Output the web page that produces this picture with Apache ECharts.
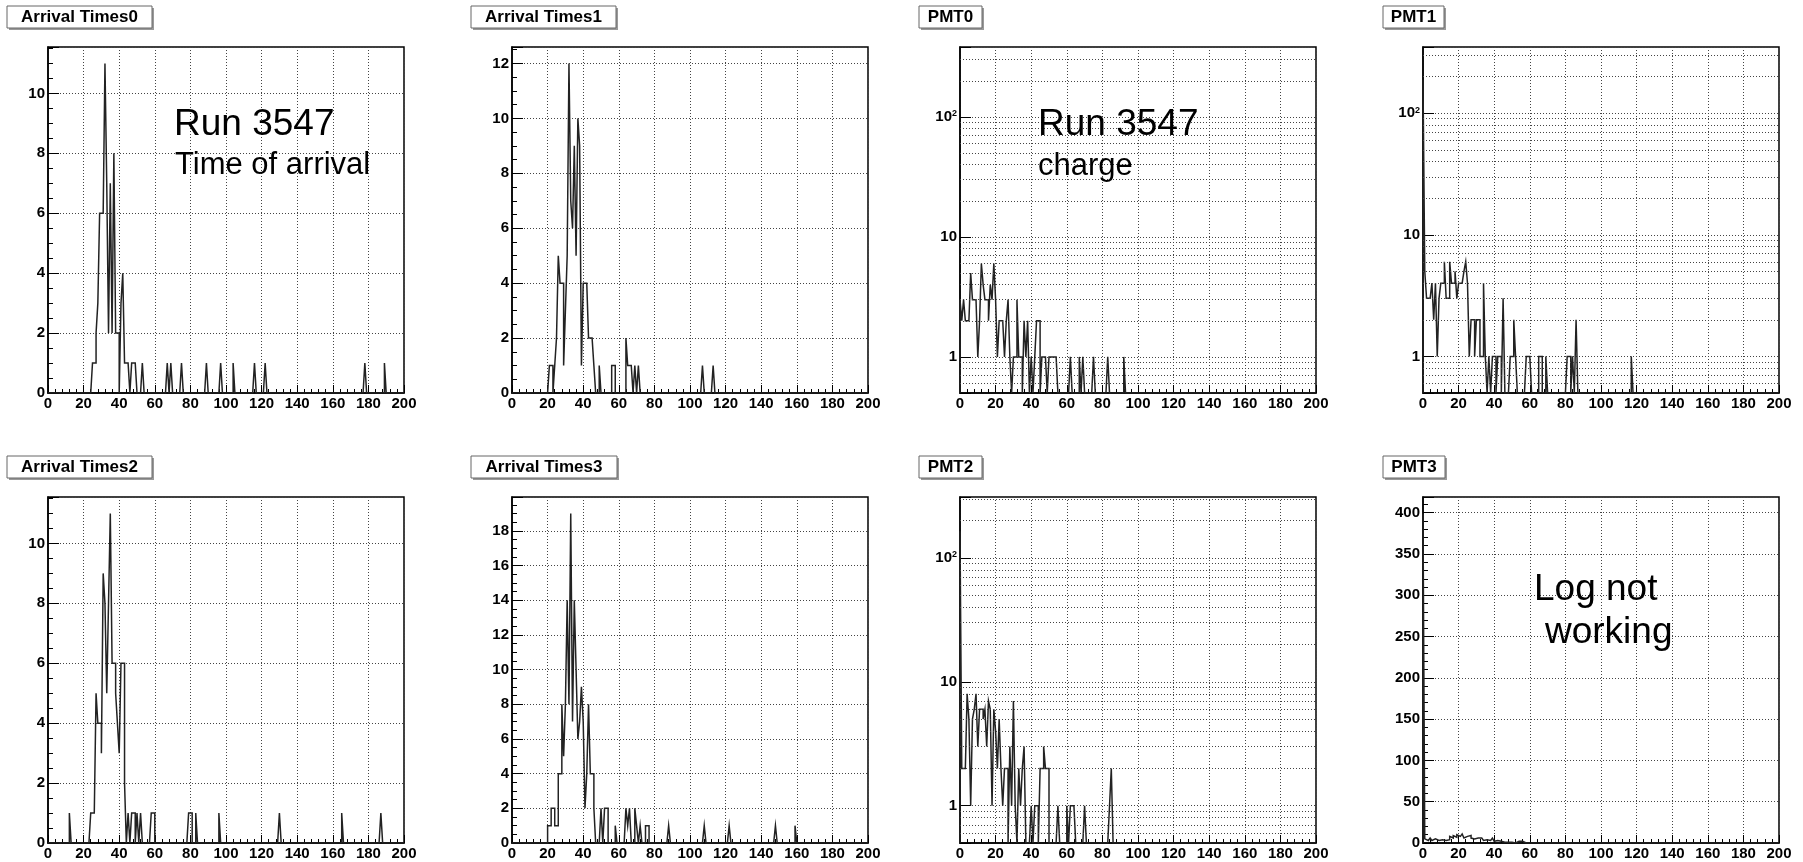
<!DOCTYPE html>
<html>
<head>
<meta charset="utf-8">
<script src="https://cdn.jsdelivr.net/npm/echarts@6/dist/echarts.min.js"></script>
<style>
html,body{margin:0;padding:0;background:#fff;}
#c{width:1803px;height:862px;}
</style>
</head>
<body>
<div id="c"></div>
<script>
// ---------------- data (bin index, count); bins are 1 unit wide on 0..200 ----------------
const panelTitles = ['Arrival Times0', 'Arrival Times1', 'PMT0', 'PMT1',
                     'Arrival Times2', 'Arrival Times3', 'PMT2', 'PMT3'];

const arrivalTimes0 = [[25,1],[26,1],[27,2],[28,3],[29,6],[30,6],[31,6],[32,11],[33,7],[34,2],[35,7],[36,2],
  [37,8],[38,2],[39,2],[41,3],[42,4],[43,1],[44,1],[45,1],[47,1],[48,1],[49,1],[53,1],[67,1],[69,1],[75,1],
  [89,1],[97,1],[104,1],[116,1],[122,1],[178,1],[189,1]];

const arrivalTimes1 = [[21,1],[22,1],[24,1],[25,2],[26,5],[27,4],[28,4],[29,1],[30,3],[31,5],[32,12],[33,7],
  [34,6],[35,9],[36,5],[37,10],[38,9],[39,1],[40,4],[41,4],[42,4],[43,2],[44,2],[45,2],[46,1],[49,1],
  [56,1],[57,1],[64,2],[65,1],[66,1],[67,1],[69,1],[71,1],[107,1],[113,1]];

const pmt0 = [[0,3],[1,2],[2,3],[3,2],[4,2],[5,2],[6,5],[7,3],[8,3],[9,3],[10,1],[11,2],[12,6],[13,4],[14,3],
  [15,3],[16,2],[17,4],[18,3],[19,6],[20,3],[21,1],[22,2],[23,2],[24,2],[25,1],[26,2],[27,3],[28,1],[30,1],
  [31,1],[32,3],[33,1],[34,1],[36,2],[37,1],[38,2],[40,1],[42,1],[43,2],[44,2],[46,1],[47,1],[48,1],[50,1],
  [51,1],[52,1],[53,1],[54,1],[62,1],[67,1],[69,1],[75,1],[83,1],[92,1]];

const pmt1 = [[0,188],[1,5],[2,3],[3,3],[4,3],[5,4],[6,2],[7,4],[8,1],[9,3],[10,4],[11,4],[12,6],[13,3],[14,3],
  [15,6],[16,4],[17,4],[18,5],[19,3],[20,4],[21,4],[22,4],[23,5],[24,6],[25,4],[26,1],[27,2],[28,2],[29,1],
  [30,2],[31,2],[32,1],[33,1],[34,4],[35,1],[37,1],[39,1],[40,1],[42,1],[43,1],[45,3],[49,1],[50,1],[51,2],
  [52,1],[58,1],[59,1],[60,1],[65,1],[66,1],[69,1],[81,1],[82,1],[84,1],[86,2],[117,1]];

const arrivalTimes2 = [[12,1],[24,1],[25,1],[26,1],[27,5],[28,4],[29,4],[30,3],[31,9],[32,8],[33,5],[34,8],
  [35,11],[36,6],[37,6],[38,5],[39,4],[40,3],[41,6],[42,6],[43,2],[45,1],[47,1],[48,1],[50,1],[52,1],
  [58,1],[59,1],[79,1],[80,1],[83,1],[96,1],[130,1],[165,1],[187,1]];

const arrivalTimes3 = [[20,1],[21,1],[22,2],[23,2],[24,1],[25,1],[26,4],[27,4],[28,8],[29,5],[30,8],[31,14],
  [32,8],[33,19],[34,7],[35,14],[36,10],[37,6],[38,7],[39,9],[40,7],[41,2],[42,4],[43,8],[44,4],[45,4],
  [46,2],[50,2],[52,2],[53,2],[58,1],[64,2],[65,1],[66,2],[69,2],[70,1],[72,1],[75,1],[76,1],[88,1],
  [108,1],[122,1],[148,1],[159,1]];

const pmt2 = [[0,164],[1,2],[2,2],[3,2],[4,8],[5,5],[6,1],[7,5],[8,6],[9,8],[10,3],[11,6],[12,6],[13,5],
  [14,6],[15,3],[16,7],[17,6],[18,1],[19,6],[20,4],[21,2],[22,5],[23,2],[24,1],[25,2],[26,2],[28,3],[29,1],
  [30,7],[31,1],[33,2],[34,1],[35,2],[36,3],[40,1],[42,1],[43,1],[45,2],[46,2],[47,3],[48,2],[49,2],
  [55,1],[60,1],[62,1],[63,1],[64,1],[70,1],[84,1],[85,2]];

const pmt3 = [[0,399],[1,5],[2,3],[3,4],[4,6],[5,3],[6,5],[7,4],[8,3],[9,5],[10,4],[11,6],[12,3],[13,5],
  [14,4],[15,8],[16,6],[17,9],[18,7],[19,10],[20,8],[21,7],[22,11],[23,6],[24,8],[25,7],[26,9],[27,6],
  [28,5],[29,7],[30,6],[31,4],[32,6],[33,5],[34,3],[35,4],[36,5],[37,3],[38,4],[39,6],[40,2],[41,3],
  [42,1],[43,2],[44,3],[45,1],[46,2],[47,1],[48,2],[49,1],[50,1],[52,1],[53,2],[54,4],[55,2],[56,1],
  [58,1],[60,1]];

const panelData = [arrivalTimes0, arrivalTimes1, pmt0, pmt1, arrivalTimes2, arrivalTimes3, pmt2, pmt3];

// axis ranges
const xRange = [0, 200];
const xStep = 20;
const yIsLog = [false, false, true, true, false, false, true, false];
const yMin   = [0, 0, 0.5, 0.5, 0, 0, 0.5, 0];
const yMax   = [11.55, 12.6, 383, 350, 11.55, 19.95, 310, 419];
const yStep  = [2, 2, null, null, 2, 2, null, 50];
const yMinorSplit = [4, 4, 0, 0, 4, 4, 0, 5];

const annotations = [
  {text: 'Run 3547', x: 174, y: 125, size: 37},
  {text: 'Time of arrival', x: 175, y: 165, size: 31},
  {text: 'Run 3547', x: 1038, y: 125, size: 37},
  {text: 'charge', x: 1038, y: 166, size: 31},
  {text: 'Log not', x: 1534, y: 590, size: 37},
  {text: 'working', x: 1545, y: 633, size: 37}
];

// ---------------- layout ----------------
const FONT = '"Liberation Sans", Arial, Helvetica, sans-serif';
const colLeft = [48, 512, 960, 1423];
const rowTop = [47, 497];
const plotW = 356, plotH = 346;
const titleBoxes = [
  [7, 6, 145], [471, 6, 145], [919, 6, 63], [1383, 6, 61],
  [7, 456, 145], [471, 456, 146], [919, 456, 63], [1383, 456, 62]
];

// outline of a histogram: each bin contributes its two edges at its count
function histOutline(pairs, base) {
  const counts = new Array(xRange[1] - xRange[0]).fill(0);
  pairs.forEach(p => { counts[p[0]] = p[1]; });
  const pts = [[xRange[0], base]];
  for (let i = 0; i < counts.length; i++) {
    const v = counts[i] > 0 ? counts[i] : base;
    pts.push([xRange[0] + i, v]);
    pts.push([xRange[0] + i + 1, v]);
  }
  pts.push([xRange[1], base]);
  return pts;
}

function logMinorLines(lo, hi) {
  const out = [];
  for (let k = -1; k <= 3; k++) {
    for (let m = 2; m <= 9; m++) {
      const v = m * Math.pow(10, k);
      if (v > lo && v < hi) out.push({yAxis: v});
    }
  }
  return out;
}

const grids = [], xAxes = [], yAxes = [], series = [], graphics = [];
const gridLine = {show: true, lineStyle: {color: '#444', width: 1, type: [1, 2]}};
const labelStyle = {color: '#000', fontFamily: FONT, fontWeight: 'bold', fontSize: 15};

for (let i = 0; i < 8; i++) {
  const r = Math.floor(i / 4), c = i % 4;
  grids.push({
    left: colLeft[c], top: rowTop[r], width: plotW, height: plotH,
    show: true, borderColor: '#000', borderWidth: 1.5, backgroundColor: '#fff',
    containLabel: false, outerBoundsMode: 'none'
  });
  xAxes.push({
    type: 'value', gridIndex: i, min: xRange[0], max: xRange[1], interval: xStep,
    axisLine: {show: true, onZero: false, lineStyle: {color: '#000', width: 1.5}},
    axisTick: {show: true, inside: true, length: 8, lineStyle: {color: '#000'}},
    minorTick: {show: true, splitNumber: 5, length: 4, lineStyle: {color: '#000'}},
    splitLine: gridLine,
    axisLabel: Object.assign({margin: 3, showMinLabel: true, showMaxLabel: true}, labelStyle)
  });
  const y = {
    gridIndex: i, min: yMin[i], max: yMax[i],
    axisLine: {show: true, onZero: false, lineStyle: {color: '#000', width: 1.5}},
    axisTick: {show: true, inside: true, length: 11, lineStyle: {color: '#000'}},
    splitLine: gridLine
  };
  if (yIsLog[i]) {
    y.type = 'log';
    y.logBase = 10;
    y.minorTick = {show: false};
    y.axisLabel = Object.assign({
      margin: 3,
      formatter: function (v) {
        const e = Math.log10(v);
        if (Math.abs(e - Math.round(e)) > 1e-6) return '';
        const p = Math.round(e);
        if (p === 0) return '1';
        if (p === 1) return '10';
        return '{b|10}{s|' + p + '}';
      },
      rich: {
        b: {fontFamily: FONT, fontWeight: 'bold', fontSize: 15, color: '#000'},
        s: {fontFamily: FONT, fontWeight: 'bold', fontSize: 9, color: '#000', verticalAlign: 'top', padding: [0, 0, 6, 0]}
      }
    }, labelStyle);
  } else {
    const step = yStep[i];
    y.type = 'value';
    y.interval = step;
    y.minorTick = {show: true, splitNumber: yMinorSplit[i], length: 5, lineStyle: {color: '#000'}};
    y.axisLabel = Object.assign({
      margin: 3,
      formatter: function (v) {
        const q = v / step;
        return Math.abs(q - Math.round(q)) < 1e-6 ? String(Math.round(v)) : '';
      }
    }, labelStyle);
  }
  yAxes.push(y);

  const base = yIsLog[i] ? yMin[i] : 0;
  const s = {
    type: 'line', xAxisIndex: i, yAxisIndex: i,
    data: histOutline(panelData[i], base),
    showSymbol: false, symbol: 'none', clip: true, silent: true, animation: false,
    lineStyle: {color: '#222', width: 1.5, join: 'miter'}
  };
  if (yIsLog[i]) {
    s.markLine = {
      silent: true, symbol: 'none', animation: false,
      label: {show: false},
      lineStyle: {color: '#444', width: 1, type: [1, 2]},
      data: logMinorLines(yMin[i], yMax[i])
    };
  }
  series.push(s);

  // title box
  const tb = titleBoxes[i];
  graphics.push({type: 'rect', shape: {x: tb[0] + 2, y: tb[1] + 2, width: tb[2], height: 22},
                 style: {fill: '#9a9a9a'}, silent: true});
  graphics.push({type: 'rect', shape: {x: tb[0], y: tb[1], width: tb[2], height: 22},
                 style: {fill: '#fff', stroke: '#666', lineWidth: 1}, silent: true});
  graphics.push({type: 'text', x: tb[0] + tb[2] / 2, y: tb[1] + 11, silent: true,
                 style: {text: panelTitles[i], fill: '#000', font: 'bold 17px ' + FONT,
                         textAlign: 'center', textVerticalAlign: 'middle', align: 'center', verticalAlign: 'middle'}});
}

annotations.forEach(a => {
  graphics.push({type: 'text', x: a.x, y: a.y, silent: true, z: 100,
                 style: {text: a.text, fill: '#000', font: a.size + 'px ' + FONT,
                         textAlign: 'left', textVerticalAlign: 'middle', align: 'left', verticalAlign: 'middle'}});
});

const chart = echarts.init(document.getElementById('c'), null, {width: 1803, height: 862});
chart.setOption({
  backgroundColor: '#fff',
  animation: false,
  grid: grids,
  xAxis: xAxes,
  yAxis: yAxes,
  series: series,
  graphic: graphics
});
</script>
</body>
</html>
